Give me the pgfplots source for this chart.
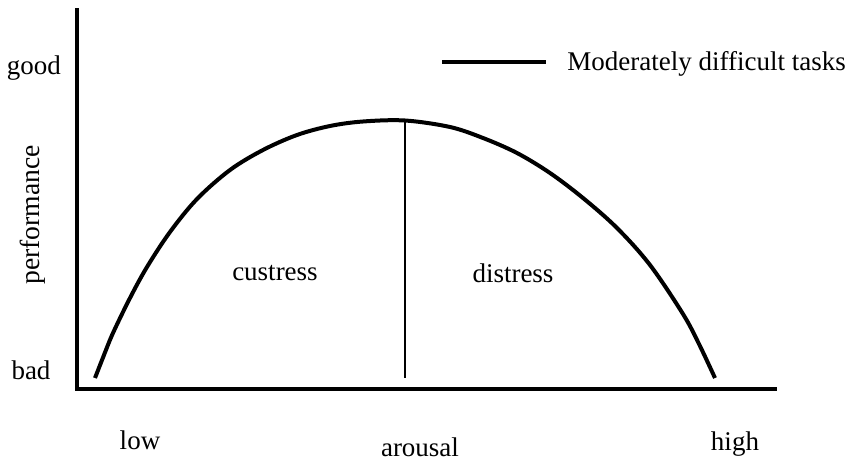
\documentclass[border=0pt]{standalone}
\usepackage{fontspec}
\setmainfont{Liberation Serif}
\usepackage{pgfplots}
\pgfplotsset{compat=1.18}
\begin{document}
\begin{tikzpicture}[font=\fontsize{13.5}{16}\selectfont]
\path[use as bounding box] (-38.5pt,-36pt) rectangle (385.5pt,194.5pt);
\begin{axis}[
  at={(0,0)}, anchor=south west,
  scale only axis, width=349pt, height=189.5pt,
  xmin=77, xmax=775, ymin=0, ymax=379,
  axis lines=left,
  axis line style={-, line width=2pt, line cap=rect},
  xtick=\empty, ytick=\empty,
  clip=false,
  legend style={draw=none, fill=none, at={(axis cs:440,327)}, anchor=west, inner sep=0pt,
    font=\fontsize{13.5}{16}\selectfont},
  legend cell align=left,
  legend image code/.code={\draw[line width=2pt] (0pt,0pt) -- (52pt,0pt);},
]
\addplot[black, line width=2pt, smooth, tension=0.55] coordinates {
(95,11) (104,34) (113,56) (130,91) (147,122) (170,157) (197,190) (230,219) (263,239) (297,254) (330,263) (363,267.5) (405,268.5)
(450,262) (483,251) (517,236) (550,216) (583,191) (617,161) (650,124) (683,75) (699,45) (715,11)};
\addlegendentry{\hspace{7.5pt}Moderately difficult tasks}
\addplot[black, line width=1pt, forget plot] coordinates {(405,11) (405,268)};
\node at (axis cs:34,321) {good};
\node at (axis cs:31,19) {bad};
\node[rotate=90, font=\fontsize{13.8}{16}\selectfont] at (axis cs:33,174) {performance};
\node at (axis cs:140,-51) {low};
\node[inner sep=1pt] at (axis cs:420,-58) {arousal};
\node at (axis cs:735,-55) {high};
\node at (axis cs:275,116) {custress};
\node at (axis cs:513,116) {distress};
\end{axis}
\end{tikzpicture}
\end{document}
